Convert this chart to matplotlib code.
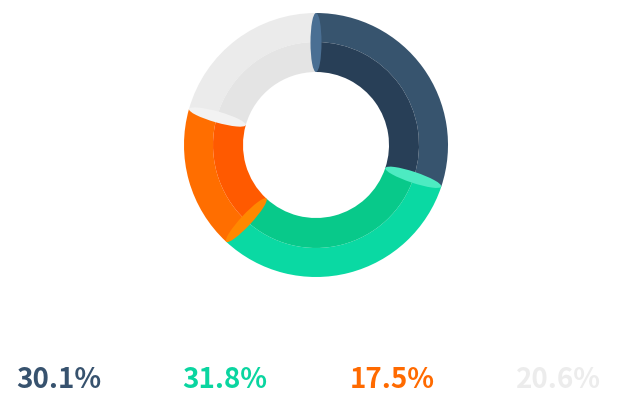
import matplotlib
matplotlib.use("Agg")
import matplotlib.pyplot as plt
from matplotlib.patches import Wedge, Ellipse
import numpy as np

labels = ["30.1%", "31.8%", "17.5%", "20.6%"]
values = [30.1, 31.8, 17.5, 20.6]
outer_colors = ["#37546e", "#0ad9a3", "#ff6e00", "#ebebeb"]
inner_colors = ["#283f57", "#08c98a", "#ff5a00", "#e4e4e4"]
cap_colors = ["#4a6f93", "#4debc2", "#ff8800", "#f2f2f2"]
text_colors = ["#37526e", "#0ad5a0", "#ff6a00", "#ececec"]

W, H = 617, 417
fig = plt.figure(figsize=(W / 100, H / 100), dpi=100)
ax = fig.add_axes([0, 0, 1, 1])
ax.set_xlim(0, W)
ax.set_ylim(H, 0)
ax.set_aspect("equal")
ax.axis("off")

cx, cy = 316, 145
r_out, r_mid, r_in = 132, 103, 73

total = sum(values)
start = 90.0
angles = []
for v in values:
    sweep = 360.0 * v / total
    end = start - sweep
    angles.append((start, end))
    start = end

for (a0, a1), oc, ic in zip(angles, outer_colors, inner_colors):
    t1, t2 = -a0, -a1
    ax.add_patch(Wedge((cx, cy), r_out, t1, t2, width=r_out - r_mid, facecolor=oc, edgecolor="none"))
    ax.add_patch(Wedge((cx, cy), r_mid, t1, t2, width=r_mid - r_in, facecolor=ic, edgecolor="none"))

for (a0, a1), cc in zip(angles, cap_colors):
    th = np.deg2rad(a0)
    rm = (r_out + r_in) / 2
    ex = cx + rm * np.cos(th)
    ey = cy - rm * np.sin(th)
    ax.add_patch(Ellipse((ex, ey), r_out - r_in, 11, angle=-a0, facecolor=cc, edgecolor="none"))

xs = [59, 225, 392, 558]
for x, t, c in zip(xs, labels, text_colors):
    ax.text(x, 380, t, color=c, fontsize=20, fontweight="bold",
            family=["Noto Sans CJK SC", "DejaVu Sans"], ha="center", va="center")

fig.savefig("out.png", dpi=100)
